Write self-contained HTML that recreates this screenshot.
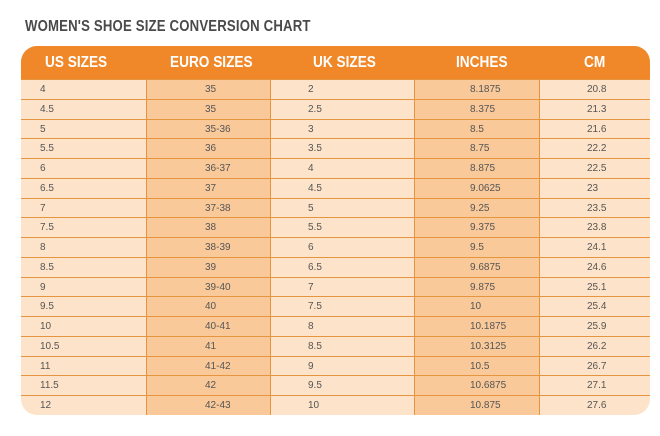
<!DOCTYPE html>
<html><head><style>
body{margin:0;width:660px;height:436px;background:#fff;font-family:"Liberation Sans",sans-serif;position:relative;overflow:hidden}
h1{position:absolute;left:25px;top:18px;margin:0;font-size:15.5px;font-weight:bold;color:#4a4a4a;transform:scaleX(0.85);transform-origin:left;letter-spacing:0.2px}
.t{position:absolute;left:21px;top:46px;width:629px;height:369px;border-radius:16px;overflow:hidden;background:#fde3c9}
.hd{position:absolute;left:0;top:0;width:100%;height:33px;background:#f0882a}
.hd span{position:absolute;top:8px;color:#fff;font-weight:bold;font-size:15.5px;transform:scaleX(0.88);transform-origin:left}
.col{position:absolute;top:33px;bottom:0;background:#f9c99a}
.vl{position:absolute;top:33px;bottom:0;width:1px;background:#e59540}
.row{position:absolute;left:0;width:100%;height:19.76px;border-top:1px solid #e59540;box-sizing:border-box;font-size:10px;color:#555}
.row span{position:absolute;top:4px}
</style></head><body>
<h1>WOMEN'S SHOE SIZE CONVERSION CHART</h1>
<div class="t">
<div class="hd">
<span style="left:24px">US SIZES</span><span style="left:149px">EURO SIZES</span><span style="left:292px">UK SIZES</span><span style="left:435px">INCHES</span><span style="left:563px">CM</span>
</div>
<div class="col" style="left:125px;width:124px"></div>
<div class="col" style="left:393px;width:125px"></div>
<div id="rows"></div>
<div class="vl" style="left:125px"></div><div class="vl" style="left:249px"></div><div class="vl" style="left:393px"></div><div class="vl" style="left:518px"></div>
</div>
<script>
var d=[["4","35","2","8.1875","20.8"],["4.5","35","2.5","8.375","21.3"],["5","35-36","3","8.5","21.6"],["5.5","36","3.5","8.75","22.2"],["6","36-37","4","8.875","22.5"],["6.5","37","4.5","9.0625","23"],["7","37-38","5","9.25","23.5"],["7.5","38","5.5","9.375","23.8"],["8","38-39","6","9.5","24.1"],["8.5","39","6.5","9.6875","24.6"],["9","39-40","7","9.875","25.1"],["9.5","40","7.5","10","25.4"],["10","40-41","8","10.1875","25.9"],["10.5","41","8.5","10.3125","26.2"],["11","41-42","9","10.5","26.7"],["11.5","42","9.5","10.6875","27.1"],["12","42-43","10","10.875","27.6"]];
var x=[19,184,287,449,566],h="";
d.forEach(function(r,i){h+='<div class="row" style="top:'+(33+i*19.76)+'px">';r.forEach(function(c,j){h+='<span style="left:'+x[j]+'px">'+c+'</span>'});h+='</div>'});
document.getElementById('rows').innerHTML=h;
</script>
</body></html>
